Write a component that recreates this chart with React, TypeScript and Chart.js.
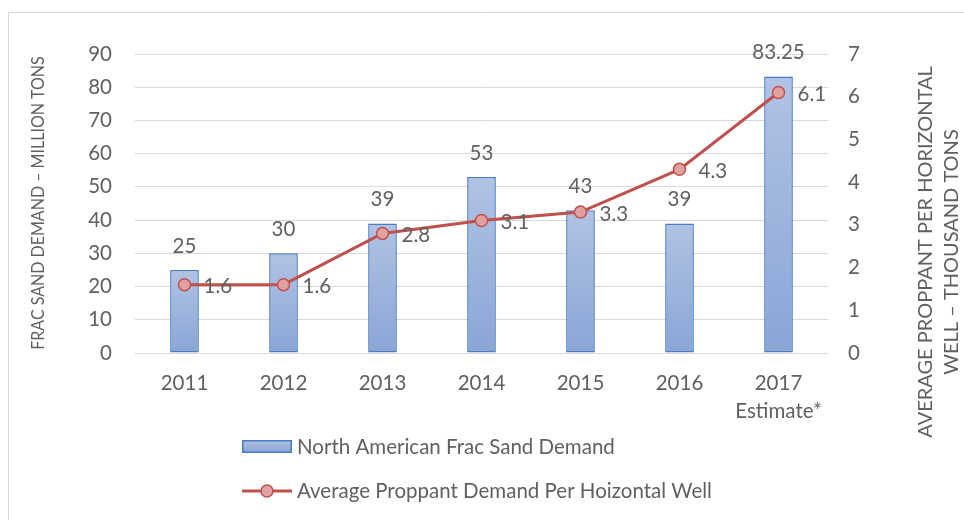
import React, { useEffect, useRef } from "react";
import { Chart, registerables } from "chart.js";

Chart.register(...registerables);

const categories: (string | string[])[] = ["2011", "2012", "2013", "2014", "2015", "2016", ["2017", "Estimate*"]];
const sandDemand = [25, 30, 39, 53, 43, 39, 83.25];
const proppantPerWell = [1.6, 1.6, 2.8, 3.1, 3.3, 4.3, 6.1];
const barLabel = "North American Frac Sand Demand";
const lineLabel = "Average Proppant Demand Per Hoizontal Well";
const leftTitle = "FRAC SAND DEMAND \u2013 MILLION TONS";
const rightTitleLines = ["AVERAGE PROPPANT PER HORIZONTAL", "WELL \u2013 THOUSAND TONS"];

const FONT = "Lato, 'Open Sans', sans-serif";
const FS = 20.5;
const TEXT = "#606060";
const BAR_TOP = "#b1c3e4";
const BAR_BOT = "#8aa5d6";
const BAR_BORDER = "#4a7cc2";
const LINE = "#c0504d";
const POINT_FILL = "#e0a2a1";
const GRID = "#d9d9d9";

const decor = {
  id: "decor",
  beforeDraw(chart: any) {
    const c = chart.ctx;
    c.save();
    c.strokeStyle = GRID;
    c.lineWidth = 1;
    c.beginPath();
    c.moveTo(8.5, chart.height);
    c.lineTo(8.5, 12.5);
    c.lineTo(chart.width, 12.5);
    c.stroke();
    c.restore();
  },
  afterDatasetsDraw(chart: any) {
    const c = chart.ctx;
    c.save();
    c.font = `${FS}px ${FONT}`;
    c.fillStyle = TEXT;
    c.textBaseline = "middle";
    const barMeta = chart.getDatasetMeta(1);
    c.textAlign = "center";
    barMeta.data.forEach((el: any, i: number) => {
      c.fillText(String(sandDemand[i]), el.x, el.y - 24);
    });
    const lineMeta = chart.getDatasetMeta(0);
    c.textAlign = "left";
    lineMeta.data.forEach((el: any, i: number) => {
      c.fillText(proppantPerWell[i].toFixed(1), el.x + 19, el.y + 2);
    });
    c.restore();
  },
  afterDraw(chart: any) {
    const c = chart.ctx;
    c.save();
    c.fillStyle = TEXT;
    c.textBaseline = "middle";
    c.textAlign = "center";
    // left title
    c.save();
    c.font = `18px ${FONT}`;
    c.translate(38, 203);
    c.rotate(-Math.PI / 2);
    c.scale(0.89, 1);
    c.fillText(leftTitle, 0, 0);
    c.restore();
    // right title
    c.save();
    c.font = `20px ${FONT}`;
    c.translate(926, 252);
    c.rotate(-Math.PI / 2);
    c.fillText(rightTitleLines[0], 0, 0);
    c.fillText(rightTitleLines[1], 0, 26);
    c.restore();
    // legend
    c.font = `${FS}px ${FONT}`;
    const lx = 242;
    const ly1 = 446;
    const ly2 = 491;
    const g = c.createLinearGradient(0, ly1 - 6, 0, ly1 + 6);
    g.addColorStop(0, BAR_TOP);
    g.addColorStop(1, BAR_BOT);
    c.fillStyle = g;
    c.fillRect(lx, ly1 - 6, 50, 13);
    c.strokeStyle = BAR_BORDER;
    c.lineWidth = 1.5;
    c.strokeRect(lx + 0.75, ly1 - 5.25, 48.5, 11.5);
    c.strokeStyle = LINE;
    c.lineWidth = 3;
    c.beginPath();
    c.moveTo(lx, ly2);
    c.lineTo(lx + 50, ly2);
    c.stroke();
    c.beginPath();
    c.arc(lx + 25, ly2, 6, 0, Math.PI * 2);
    c.fillStyle = POINT_FILL;
    c.fill();
    c.lineWidth = 1.5;
    c.stroke();
    c.fillStyle = TEXT;
    c.textAlign = "left";
    c.fillText(barLabel, lx + 55, ly1 + 1);
    c.fillText(lineLabel, lx + 55, ly2);
    c.restore();
  },
};

export default function App() {
  const ref = useRef<HTMLCanvasElement | null>(null);
  useEffect(() => {
    if (!ref.current) return;
    const chart = new Chart(ref.current, {
      type: "bar",
      data: {
        labels: categories,
        datasets: [
          {
            type: "line",
            label: lineLabel,
            data: proppantPerWell,
            yAxisID: "y1",
            borderColor: LINE,
            borderWidth: 3,
            pointRadius: 6,
            pointBackgroundColor: POINT_FILL,
            pointBorderColor: LINE,
            pointBorderWidth: 1.5,
            tension: 0,
            order: 0,
          } as any,
          {
            type: "bar",
            label: barLabel,
            data: sandDemand,
            yAxisID: "y",
            borderColor: BAR_BORDER,
            borderWidth: 1.5,
            borderSkipped: false,
            barPercentage: 0.29,
            categoryPercentage: 1,
            order: 1,
            backgroundColor: (ctx: any) => {
              const chart = ctx.chart;
              const y = chart.scales && chart.scales.y;
              if (!y || !chart.chartArea || ctx.raw == null) return BAR_BOT;
              const top = y.getPixelForValue(ctx.raw);
              const base = y.getPixelForValue(0);
              const g = chart.ctx.createLinearGradient(0, top, 0, base);
              g.addColorStop(0, BAR_TOP);
              g.addColorStop(1, BAR_BOT);
              return g;
            },
          } as any,
        ],
      },
      options: {
        responsive: false,
        animation: false,
        layout: { padding: { left: 0, top: 54, right: 76, bottom: 87 } },
        plugins: {
          legend: { display: false },
          tooltip: { enabled: false },
        },
        scales: {
          x: {
            offset: true,
            grid: { display: false, drawTicks: false },
            border: { display: false },
            ticks: {
              color: TEXT,
              font: { family: FONT, size: FS, lineHeight: 1.37 },
              padding: 16,
              maxRotation: 0,
              autoSkip: false,
            },
            afterFit: (s: any) => {
              s.height = 80;
            },
          },
          y: {
            position: "left",
            min: 0,
            max: 90,
            grid: { color: GRID, lineWidth: 1, drawTicks: false },
            border: { display: false },
            ticks: {
              stepSize: 10,
              color: TEXT,
              font: { family: FONT, size: FS },
              padding: 23,
            },
            afterFit: (s: any) => {
              s.width = 135;
            },
          },
          y1: {
            position: "right",
            min: 0,
            max: 7,
            grid: { display: false, drawTicks: false },
            border: { display: false },
            ticks: {
              stepSize: 1,
              color: TEXT,
              font: { family: FONT, size: FS },
              padding: 20,
            },
            afterFit: (s: any) => {
              s.width = 60;
            },
          },
        },
      },
      plugins: [decor],
    });
    return () => chart.destroy();
  }, []);
  return (
    <div style={{ position: "fixed", left: 0, top: 0, width: 964, height: 520, overflow: "hidden" }}>
      <canvas ref={ref} width={964} height={520} style={{ display: "block" }} />
    </div>
  );
}
